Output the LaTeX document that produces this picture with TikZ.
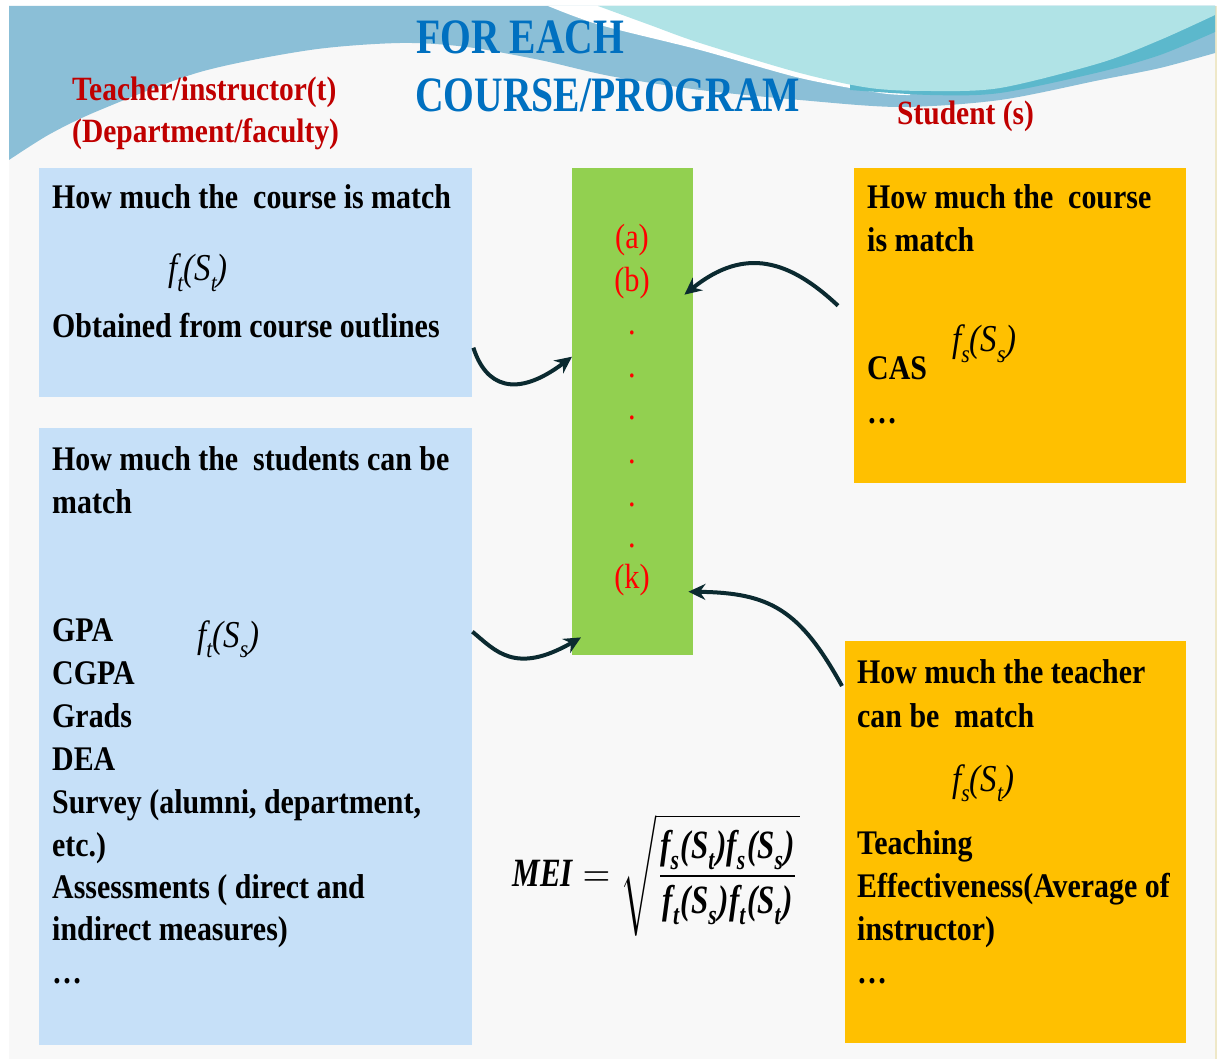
\documentclass[tikz,border=0pt]{standalone}
\usepackage{fontspec}
\setmainfont{Liberation Serif}[FakeStretch=0.867]
\newfontfamily\titlefont{Liberation Serif}[FakeStretch=0.8]
\usepackage{amsmath}
\usetikzlibrary{arrows.meta,calc}

\definecolor{slidebg}{HTML}{F8F8F8}
\definecolor{wavedark}{HTML}{8BBFD7}
\definecolor{wavecyan}{HTML}{B0E3E6}
\definecolor{waveteal}{HTML}{5CB8CC}
\definecolor{boxblue}{HTML}{C6E0F8}
\definecolor{boxorange}{HTML}{FFC000}
\definecolor{boxgreen}{HTML}{92D050}
\definecolor{titleblue}{HTML}{0070C0}
\definecolor{labelred}{HTML}{C00000}
\definecolor{itemred}{HTML}{FF0000}
\definecolor{arrowink}{HTML}{0B2A30}
\definecolor{edgeline}{HTML}{EFE8C8}

% small lowered index for the f_x(S_y) labels
\newcommand\lowidx[1]{\raisebox{-0.28em}{\fontsize{25}{25}\selectfont #1}}
% bold italic text letters inside the index formula
\newcommand\bix[1]{\text{\bfseries\itshape #1}}

\begin{document}
\begin{tikzpicture}[x=1pt,y=-1pt,
  panel/.style={draw=none,inner sep=0,anchor=north west},
  bodytext/.style={inner sep=0,anchor=base west,font=\fontsize{34.5}{43}\selectfont\bfseries},
  headred/.style={inner sep=0,anchor=base west,text=labelred,font=\fontsize{34}{42}\selectfont\bfseries},
  headblue/.style={inner sep=0,anchor=base west,text=titleblue,font=\titlefont\fontsize{49.5}{56}\selectfont\bfseries},
  fnlabel/.style={inner sep=0,anchor=base west,font=\fontsize{38}{40}\selectfont\itshape},
  item/.style={inner sep=0,text=itemred,font=\fontsize{35}{40}\selectfont},
  conn/.style={draw=arrowink,line width=4pt,-{Stealth[length=17pt,width=16pt]}}
]
\useasboundingbox (0,0) rectangle (1224,1059);
\fill[white] (0,0) rectangle (1224,1059);
\fill[slidebg] (9,6) rectangle (1215,1059);
\draw[edgeline,line width=1.5pt] (1216,6) -- (1216,1059);

% header waves
\fill[wavedark] (1215,6) -- (9,6) -- (9,160) -- plot[smooth] coordinates {
  (9,160) (50,134) (100,110) (200,72) (310,50) (400,43) (467,47) (540,60)
  (610,76) (700,90) (800,100) (900,107) (1000,100) (1100,80) (1160,68) (1215,53)}
  -- cycle;
\fill[white] (910,6) -- (548,6) -- plot[smooth] coordinates {
  (548,6) (600,25) (700,50) (800,78) (880,93) (910,95)} -- cycle;
\fill[waveteal] (1215,6) -- (850,6) -- (850,90) -- plot[smooth] coordinates {
  (850,90) (930,95) (1000,93) (1100,72) (1160,55) (1215,32)} -- cycle;
\fill[wavecyan] (1215,6) -- (598,6) -- plot[smooth] coordinates {
  (598,6) (650,25) (700,43) (800,73) (870,88) (930,91) (1000,88) (1100,63)
  (1160,40) (1215,15)} -- cycle;

% headings
\node[headblue] (title1) at (416,54) {FOR EACH};
\node[headblue] (title2) at (415,112) {COURSE/PROGRAM};
\node[headred] (teach1) at (72,101) {Teacher/instructor(t)};
\node[headred] (teach2) at (72,143) {(Department/faculty)};
\node[headred] (stud) at (897,125) {Student (s)};

% panels
\node[panel,fill=boxblue,minimum width=433,minimum height=229] (ltop) at (39,168) {};
\node[panel,fill=boxblue,minimum width=433,minimum height=617] (lbot) at (39,428) {};
\node[panel,fill=boxgreen,minimum width=121,minimum height=487] (green) at (572,168) {};
\node[panel,fill=boxorange,minimum width=332,minimum height=315] (rtop) at (854,168) {};
\node[panel,fill=boxorange,minimum width=341,minimum height=402] (rbot) at (845,641) {};

% left upper panel
\node[bodytext] (lt1) at (52,209) {How much the~ course is match};
\node[fnlabel] (lt2) at (168,281) {f\lowidx{t}(S\lowidx{t})};
\node[bodytext] (lt3) at (52,338) {Obtained from course outlines};

% left lower panel
\node[bodytext] (lb1) at (52,470) {How much the~ students can be};
\node[bodytext] (lb2) at (52,513) {match};
\node[bodytext] (lb3) at (52,641) {GPA};
\node[fnlabel] (lbf) at (197,647) {f\lowidx{t}(S\lowidx{s})};
\node[bodytext] (lb4) at (52,684) {CGPA};
\node[bodytext] (lb5) at (52,727) {Grads};
\node[bodytext] (lb6) at (52,770) {DEA};
\node[bodytext] (lb7) at (52,813) {Survey (alumni, department,};
\node[bodytext] (lb8) at (52,856) {etc.)};
\node[bodytext] (lb9) at (52,898) {Assessments ( direct and};
\node[bodytext] (lb10) at (52,940) {indirect measures)};
\node[bodytext] (lb11) at (52,983) {…};

% right upper panel
\node[bodytext] (rt1) at (867,209) {How much the~ course};
\node[bodytext] (rt2) at (867,252) {is match};
\node[fnlabel] (rtf) at (952,352) {f\lowidx{s}(S\lowidx{s})};
\node[bodytext] (rt3) at (867,380) {CAS};
\node[bodytext] (rt4) at (867,423) {…};

% right lower panel
\node[bodytext] (rb1) at (857,683) {How much the teacher};
\node[bodytext] (rb2) at (857,727) {can be~ match};
\node[fnlabel] (rbf) at (952,791) {f\lowidx{s}(S\lowidx{t})};
\node[bodytext] (rb3) at (857,854) {Teaching};
\node[bodytext] (rb4) at (857,897) {Effectiveness(Average of};
\node[bodytext] (rb5) at (857,940) {instructor)};
\node[bodytext] (rb6) at (857,983) {…};

% criteria list in the middle column
\node[item] (ia) at (632,240) {(a)};
\node[item] (ib) at (632,283) {(b)};
\node[item] (d1) at (632,333) {.};
\node[item] (d2) at (632,376) {.};
\node[item] (d3) at (632,418) {.};
\node[item] (d4) at (632,462) {.};
\node[item] (d5) at (632,505) {.};
\node[item] (d6) at (632,546) {.};
\node[item] (ik) at (632,580) {(k)};

% index formula
\node[inner sep=0] (mei) at (656,875) {\resizebox*{287pt}{122pt}{$\bix{MEI}=\sqrt{\dfrac{\bix{f}_{\bix{s}}\bix{(S}_{\bix{t}}\bix{)f}_{\bix{s}}\bix{(S}_{\bix{s}}\bix{)}}{\bix{f}_{\bix{t}}\bix{(S}_{\bix{s}}\bix{)f}_{\bix{t}}\bix{(S}_{\bix{t}}\bix{)}}}$}};

% connectors
\draw[conn] ($(ltop.east)+(1,65)$) .. controls +(12,38) and +(-57,43) .. ($(green.west)+(0,-55)$);
\draw[conn] ($(lbot.east)+(0,-105)$) .. controls +(23,19) and +(-66,38) .. ($(green.south west)+(9,-18)$);
\draw[conn] ($(rtop.west)+(-16,-20)$) .. controls +(-48,-45) and +(61,-49) .. ($(green.east)+(-9,-117)$);
\draw[conn] ($(rbot.north west)+(-3,45)$) .. controls +(-42,-76) and +(82,1) .. ($(green.east)+(-5,180)$);
\end{tikzpicture}
\end{document}
